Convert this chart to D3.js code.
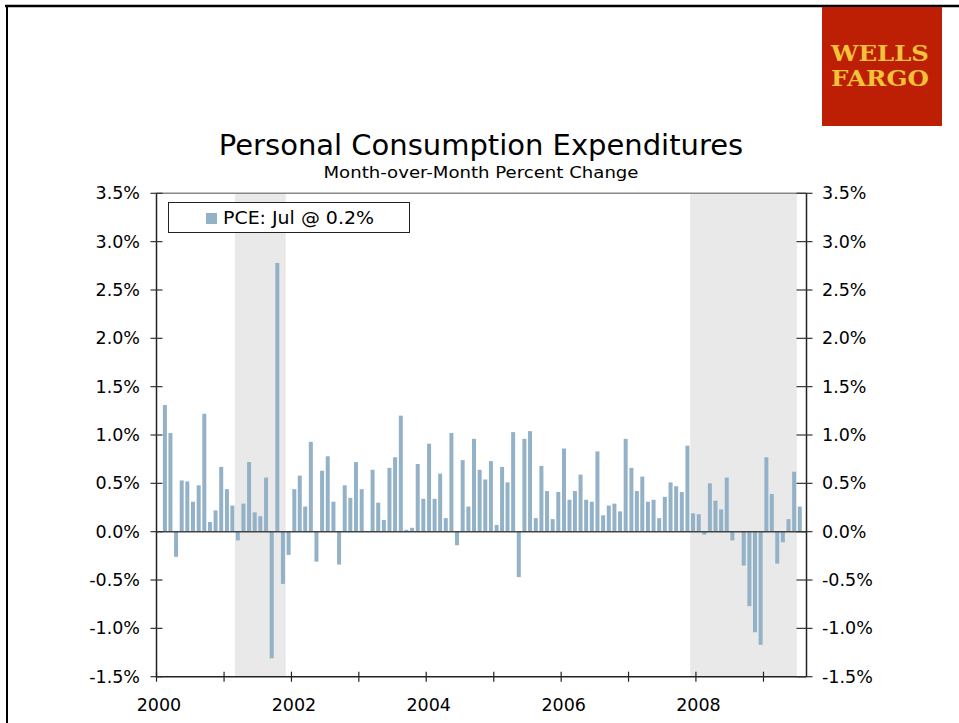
<!DOCTYPE html>
<html>
<head>
<meta charset="utf-8">
<script src="https://cdn.jsdelivr.net/npm/d3@7"></script>
<style>
  body { margin: 0; background: #fff; }
  text { font-family: "DejaVu Sans", Verdana, sans-serif; fill: #000; }
</style>
</head>
<body>
<div id="graphic"></div>
<script>
// PCE, month-over-month % change, Feb 2000 .. Jul 2009
var firstMonth = "2000-02-01";
var y2000 = [1.31, 1.02, -0.26, 0.53, 0.52, 0.31, 0.48, 1.22, 0.10, 0.22, 0.67];
var y2001 = [0.44, 0.27, -0.09, 0.29, 0.72, 0.20, 0.16, 0.56, -1.31, 2.78, -0.54, -0.24];
var y2002 = [0.44, 0.58, 0.26, 0.93, -0.31, 0.63, 0.78, 0.31, -0.34, 0.48, 0.35, 0.72];
var y2003 = [0.44, 0.00, 0.64, 0.30, 0.12, 0.66, 0.77, 1.20, 0.02, 0.04, 0.70, 0.34];
var y2004 = [0.91, 0.34, 0.60, 0.14, 1.02, -0.14, 0.74, 0.26, 0.96, 0.64, 0.54, 0.73];
var y2005 = [0.07, 0.67, 0.51, 1.03, -0.47, 0.96, 1.04, 0.14, 0.68, 0.42, 0.13, 0.41];
var y2006 = [0.86, 0.33, 0.42, 0.59, 0.33, 0.31, 0.83, 0.17, 0.27, 0.29, 0.21, 0.96];
var y2007 = [0.66, 0.42, 0.57, 0.31, 0.33, 0.14, 0.36, 0.51, 0.47, 0.41, 0.89, 0.19];
var y2008 = [0.18, -0.03, 0.50, 0.32, 0.23, 0.56, -0.09, 0.00, -0.35, -0.77, -1.04, -1.17];
var y2009 = [0.77, 0.39, -0.33, -0.11, 0.13, 0.62, 0.26];

var recessions = [["2001-03-01", "2001-12-01"], ["2007-12-01", "2009-07-01"]];
var yTicks = [-1.5, -1.0, -0.5, 0.0, 0.5, 1.0, 1.5, 2.0, 2.5, 3.0, 3.5];
var yearLabels = ["2000", "2002", "2004", "2006", "2008"];
var title = "Personal Consumption Expenditures";
var subtitle = "Month-over-Month Percent Change";
var legendText = "PCE: Jul @ 0.2%";

var barColor = "#93b2c7";
var shadeColor = "#e9e9e9";

function draw() {
  var parse = d3.timeParse("%Y-%m-%d");
  var values = [].concat(y2000, y2001, y2002, y2003, y2004, y2005, y2006, y2007, y2008, y2009);
  var data = values.map(function(v, i) {
    return { date: d3.timeMonth.offset(parse(firstMonth), i), value: v };
  });

  var svg = d3.select("#graphic").append("svg").attr("width", 959).attr("height", 723);

  var x0 = 156.5, x1 = 806.5, y0 = 193.3, y1 = 676.7;
  var x = d3.scaleTime().domain([parse("2000-01-01"), parse("2009-08-22")]).range([x0, x1]);
  var y = d3.scaleLinear().domain([-1.5, 3.5]).range([y1, y0]);

  // page frame
  svg.append("line").attr("x1", 5).attr("x2", 959).attr("y1", 6).attr("y2", 6)
    .attr("stroke", "#000").attr("stroke-width", 2.5);
  svg.append("line").attr("x1", 7).attr("x2", 7).attr("y1", 5).attr("y2", 723)
    .attr("stroke", "#000").attr("stroke-width", 2);

  // logo
  svg.append("rect").attr("x", 822).attr("y", 7).attr("width", 120).attr("height", 119).attr("fill", "#bd1f04");
  [["WELLS", 61], ["FARGO", 86]].forEach(function(d) {
    svg.append("text").attr("x", 880).attr("y", d[1]).attr("text-anchor", "middle")
      .attr("textLength", 98).attr("lengthAdjust", "spacingAndGlyphs")
      .style("font-family", "'DejaVu Serif', serif").style("font-weight", "bold")
      .style("font-size", "22px").style("fill", "#f3c13a").text(d[0]);
  });

  // titles
  svg.append("text").attr("x", 481).attr("y", 155).attr("text-anchor", "middle")
    .style("font-size", "29px").text(title);
  svg.append("text").attr("x", 481).attr("y", 178).attr("text-anchor", "middle")
    .attr("textLength", 315).attr("lengthAdjust", "spacingAndGlyphs")
    .style("font-size", "16px").text(subtitle);

  // recession shading
  svg.append("g").selectAll("rect").data(recessions).enter().append("rect")
    .attr("x", function(d) { return x(parse(d[0])); })
    .attr("width", function(d) { return x(parse(d[1])) - x(parse(d[0])); })
    .attr("y", y0).attr("height", y1 - y0)
    .attr("fill", shadeColor);

  // bars
  svg.append("g").selectAll("rect").data(data).enter().append("rect")
    .attr("x", function(d) {
      var c = (x(d.date) + x(d3.timeMonth.offset(d.date, 1))) / 2;
      return c - 2;
    })
    .attr("width", 4)
    .attr("y", function(d) { return y(Math.max(0, d.value)); })
    .attr("height", function(d) { return Math.abs(y(d.value) - y(0)); })
    .attr("fill", barColor);

  // frame lines
  svg.append("line").attr("x1", x0).attr("x2", x1).attr("y1", y0).attr("y2", y0)
    .attr("stroke", "#888").attr("stroke-width", 1.5);
  svg.append("line").attr("x1", x0).attr("x2", x1).attr("y1", y(0)).attr("y2", y(0))
    .attr("stroke", "#444").attr("stroke-width", 1.5);
  svg.append("line").attr("x1", x0).attr("x2", x1).attr("y1", y1).attr("y2", y1)
    .attr("stroke", "#222").attr("stroke-width", 1.5);
  [x0, x1].forEach(function(px) {
    svg.append("line").attr("x1", px).attr("x2", px).attr("y1", y0).attr("y2", y1)
      .attr("stroke", "#222").attr("stroke-width", 1.5);
  });

  // y axes, ticks cross the axis lines
  var fmt = function(v) { return d3.format(".1f")(v).replace("\u2212", "-") + "%"; };
  var yl = svg.append("g").selectAll("g").data(yTicks).enter().append("g");
  yl.append("line").attr("x1", x0 - 6).attr("x2", x0 + 6)
    .attr("y1", function(d) { return y(d); }).attr("y2", function(d) { return y(d); })
    .attr("stroke", "#333").attr("stroke-width", 1.2);
  yl.append("text").attr("x", 140).attr("y", function(d) { return y(d) + 6; })
    .attr("text-anchor", "end").style("font-size", "17.5px").text(fmt);
  var yr = svg.append("g").selectAll("g").data(yTicks).enter().append("g");
  yr.append("line").attr("x1", x1 - 10).attr("x2", x1 + 6)
    .attr("y1", function(d) { return y(d); }).attr("y2", function(d) { return y(d); })
    .attr("stroke", "#333").attr("stroke-width", 1.2);
  yr.append("text").attr("x", 822).attr("y", function(d) { return y(d) + 6; })
    .attr("text-anchor", "start").style("font-size", "17.5px").text(fmt);

  // x axis
  var years = d3.timeYear.range(parse("2000-01-01"), parse("2009-06-01"));
  svg.append("g").selectAll("line").data(years).enter().append("line")
    .attr("x1", function(d) { return x(d); }).attr("x2", function(d) { return x(d); })
    .attr("y1", y1 - 5).attr("y2", y1 + 5)
    .attr("stroke", "#222").attr("stroke-width", 1.2);
  svg.append("g").selectAll("text").data(yearLabels).enter().append("text")
    .attr("x", function(d) { return x(parse(d + "-01-01")) + 2.5; })
    .attr("y", 711).attr("text-anchor", "middle").style("font-size", "17.5px")
    .text(function(d) { return d; });

  // legend
  var lg = svg.append("g");
  lg.append("rect").attr("x", 168.5).attr("y", 202.5).attr("width", 241).attr("height", 30)
    .attr("fill", "#fff").attr("stroke", "#222").attr("stroke-width", 1);
  lg.append("rect").attr("x", 206).attr("y", 213).attr("width", 11).attr("height", 11).attr("fill", barColor);
  lg.append("text").attr("x", 223).attr("y", 224)
    .attr("textLength", 151).attr("lengthAdjust", "spacingAndGlyphs")
    .style("font-size", "17px").text(legendText);
}

draw();
</script>
</body>
</html>
